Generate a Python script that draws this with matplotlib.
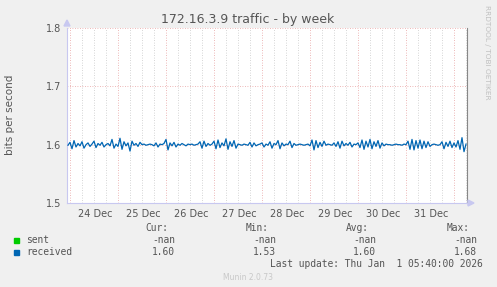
import numpy as np
import matplotlib
matplotlib.use("Agg")
import matplotlib.pyplot as plt

# time in hours since 24 Dec 00:00, one sample per hour
day_labels = ["24 Dec", "25 Dec", "26 Dec", "27 Dec", "28 Dec", "29 Dec", "30 Dec", "31 Dec"]
y_ticks = [1.5, 1.6, 1.7, 1.8]

received = [
    1.599,
    1.604, 1.593, 1.607, 1.596, 1.602, 1.598, 1.605, 1.594, 1.600, 1.603, 1.597, 1.601,
    1.606, 1.595, 1.602, 1.599, 1.604, 1.596, 1.600, 1.602, 1.598, 1.609, 1.594, 1.601,
    1.597, 1.611, 1.592, 1.605, 1.598, 1.603, 1.589, 1.606, 1.599, 1.602, 1.597, 1.604,
    1.600, 1.601, 1.599, 1.600, 1.601, 1.600, 1.598, 1.603, 1.596, 1.601, 1.600, 1.602,
    1.609, 1.591, 1.603, 1.598, 1.604, 1.596, 1.601, 1.599, 1.602, 1.600, 1.598, 1.601,
    1.600, 1.601, 1.599, 1.600, 1.601, 1.605, 1.594, 1.606, 1.597, 1.602, 1.599, 1.601,
    1.606, 1.593, 1.608, 1.595, 1.603, 1.598, 1.610, 1.592, 1.605, 1.597, 1.607, 1.594,
    1.601, 1.600, 1.599, 1.601, 1.600, 1.599, 1.604, 1.596, 1.603, 1.598, 1.600, 1.601,
    1.603, 1.596, 1.601, 1.599, 1.605, 1.594, 1.602, 1.600, 1.607, 1.593, 1.603, 1.598,
    1.601, 1.600, 1.606, 1.595, 1.602, 1.599, 1.600, 1.601, 1.600, 1.599, 1.600, 1.601,
    1.598, 1.608, 1.591, 1.607, 1.595, 1.604, 1.597, 1.606, 1.599, 1.601, 1.600, 1.599,
    1.603, 1.597, 1.605, 1.594, 1.606, 1.598, 1.602, 1.599, 1.604, 1.596, 1.601, 1.600,
    1.603, 1.595, 1.608, 1.592, 1.606, 1.596, 1.609, 1.593, 1.605, 1.597, 1.607, 1.594,
    1.603, 1.598, 1.601, 1.600, 1.600, 1.599, 1.600, 1.601, 1.600, 1.600, 1.599, 1.601,
    1.600, 1.606, 1.592, 1.609, 1.591, 1.607, 1.594, 1.608, 1.593, 1.606, 1.595, 1.605,
    1.597, 1.600, 1.601, 1.600, 1.599, 1.600, 1.605, 1.593, 1.604, 1.597, 1.606, 1.595,
    1.603, 1.596, 1.607, 1.592, 1.612, 1.588, 1.601,
]
hours = np.arange(len(received)) - 1.0

legend_names = ["sent", "received"]
legend_colors = ["#00cc00", "#0066b3"]
stats_cur = ["-nan", "1.60"]
stats_min = ["-nan", "1.53"]
stats_avg = ["-nan", "1.60"]
stats_max = ["-nan", "1.68"]

W, H = 497, 287
fig = plt.figure(figsize=(W / 100, H / 100), dpi=100, facecolor="#f0f0f0")
ax = fig.add_axes([67 / W, 1 - 203 / H, 400 / W, 175 / H], facecolor="white")

ax.plot(hours, received, color="#0066b3", lw=0.9, zorder=3)
ax.set_xlim(-1.5, 198.5)
ax.set_ylim(1.5, 1.8)

# grid: red dotted at day boundaries, grey dotted every 6 h
for h in np.arange(0, 199, 6):
    if h % 24 == 0:
        ax.axvline(h, color="#e8a0a0", lw=0.6, ls=(0, (1, 2)), zorder=1)
    else:
        ax.axvline(h, color="#c8c8c8", lw=0.6, ls=(0, (1, 2)), zorder=1)
for v in y_ticks[1:]:
    ax.axhline(v, color="#e8a0a0", lw=0.6, ls=(0, (1, 2)), zorder=1)

ax.set_yticks(y_ticks)
ax.set_yticklabels([f"{v:.1f}" for v in y_ticks])
ax.set_xticks([12.5 + 24 * i for i in range(len(day_labels))])
ax.set_xticklabels(day_labels)
ax.tick_params(length=0, labelsize=7, colors="#555555", pad=4)

ax.spines["top"].set_visible(False)
ax.spines["left"].set_color("#c8c8f0")
ax.spines["bottom"].set_color("#c8c8f0")
ax.spines["right"].set_color("#888888")
for s in ax.spines.values():
    s.set_linewidth(0.8)

# axis arrows
fig.patches.append(plt.Polygon([[64 / W, 1 - 26 / H], [70 / W, 1 - 26 / H], [67 / W, 1 - 20 / H]],
                               transform=fig.transFigure, color="#c8c8f0", zorder=5))
fig.patches.append(plt.Polygon([[468 / W, 1 - 200 / H], [468 / W, 1 - 206 / H], [474 / W, 1 - 203 / H]],
                               transform=fig.transFigure, color="#c8c8f0", zorder=5))

fig.text(248 / W, 1 - 19 / H, "172.16.3.9 traffic - by week", ha="center", va="center",
         fontsize=9, color="#555555")
fig.text(10 / W, 1 - 115 / H, "bits per second", rotation=90, ha="center", va="center",
         fontsize=7.5, color="#555555")
fig.text(487 / W, 1 - 5 / H, "RRDTOOL / TOBI OETIKER", rotation=-90, ha="center", va="top",
         fontsize=5.3, color="#c0c0c0")

mono = dict(family="DejaVu Sans Mono", fontsize=6.9, color="#555555", va="center")
fig.text(168 / W, 1 - 228 / H, "Cur:", ha="right", **mono)
fig.text(269 / W, 1 - 228 / H, "Min:", ha="right", **mono)
fig.text(369 / W, 1 - 228 / H, "Avg:", ha="right", **mono)
fig.text(470 / W, 1 - 228 / H, "Max:", ha="right", **mono)
for i, name in enumerate(legend_names):
    y = 1 - (240 + 12 * i) / H
    fig.patches.append(plt.Rectangle((14 / W, y - 2.5 / H), 5 / W, 5 / H,
                                     transform=fig.transFigure, color=legend_colors[i]))
    fig.text(26 / W, y, name, ha="left", **mono)
    fig.text(175 / W, y, stats_cur[i], ha="right", **mono)
    fig.text(276 / W, y, stats_min[i], ha="right", **mono)
    fig.text(376 / W, y, stats_avg[i], ha="right", **mono)
    fig.text(477 / W, y, stats_max[i], ha="right", **mono)
fig.text(483 / W, 1 - 264 / H, "Last update: Thu Jan  1 05:40:00 2026", ha="right", **mono)
fig.text(248 / W, 1 - 277 / H, "Munin 2.0.73", ha="center", va="center", fontsize=5.5, color="#c8c8c8")

fig.savefig("out.png", dpi=100, facecolor=fig.get_facecolor())
